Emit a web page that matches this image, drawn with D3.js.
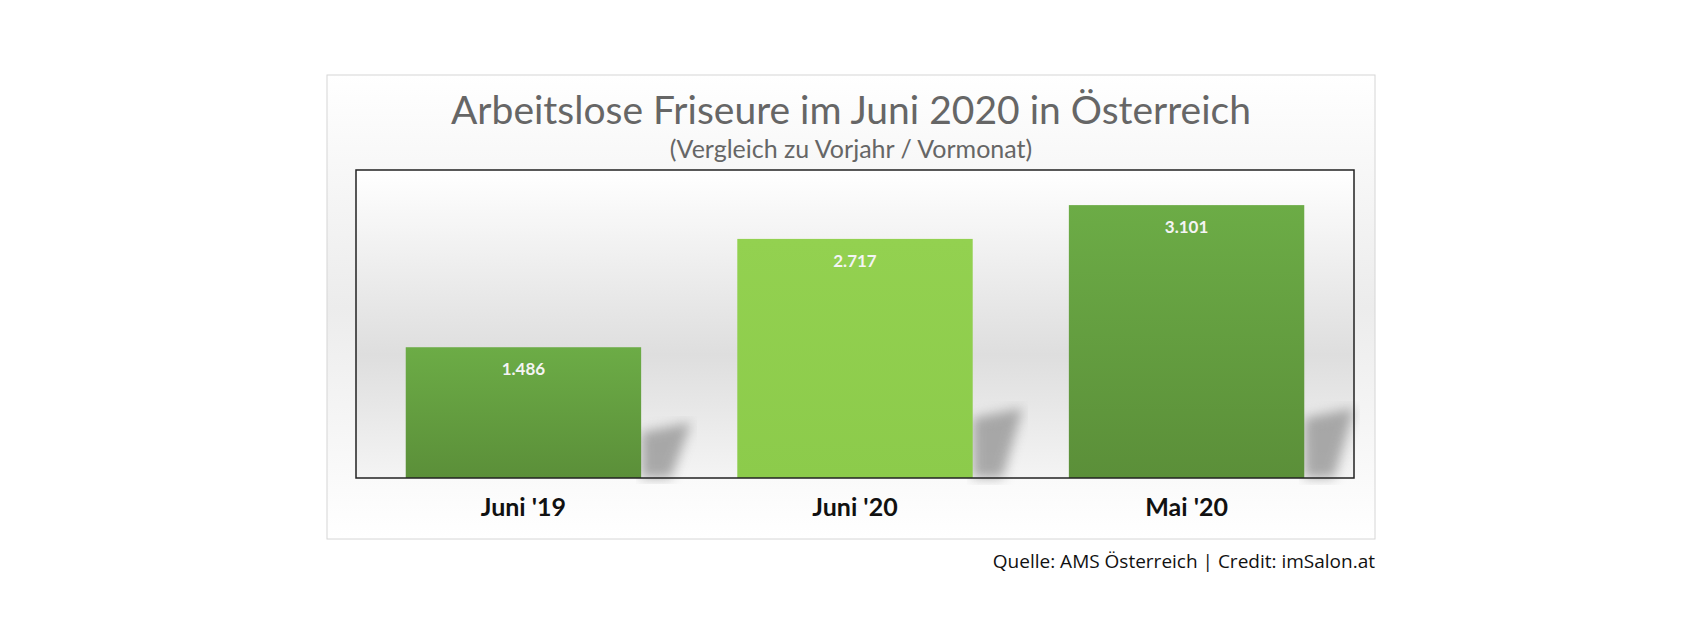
<!DOCTYPE html>
<html><head><meta charset="utf-8">
<script src="https://cdn.jsdelivr.net/npm/d3@7"></script>
<style>body{margin:0;background:#fff;}svg{display:block;}</style>
</head><body>
<script>
var categories = ["Juni '19", "Juni '20", "Mai '20"];
var values = [1486, 2717, 3101];
var valueLabels = ["1.486", "2.717", "3.101"];
var barFill = ["dark", "light", "dark"];

var svg = d3.select("body").append("svg").attr("width", 1700).attr("height", 640);
var defs = svg.append("defs");

var g1 = defs.append("linearGradient").attr("id", "dark").attr("x1", 0).attr("y1", 0).attr("x2", 0).attr("y2", 1);
g1.append("stop").attr("offset", 0).attr("stop-color", "#6cac46");
g1.append("stop").attr("offset", 1).attr("stop-color", "#5b8f39");
var g2 = defs.append("linearGradient").attr("id", "light").attr("x1", 0).attr("y1", 0).attr("x2", 0).attr("y2", 1);
g2.append("stop").attr("offset", 0).attr("stop-color", "#93d150");
g2.append("stop").attr("offset", 1).attr("stop-color", "#8ccb4b");
var bg = defs.append("linearGradient").attr("id", "bg").attr("x1", 0).attr("y1", 0).attr("x2", 0).attr("y2", 1);
bg.append("stop").attr("offset", 0).attr("stop-color", "#ffffff");
bg.append("stop").attr("offset", 0.6).attr("stop-color", "#dedede");
bg.append("stop").attr("offset", 1).attr("stop-color", "#f4f4f4");
var ob = defs.append("linearGradient").attr("id", "ob").attr("x1", 0).attr("y1", 0).attr("x2", 0).attr("y2", 1);
ob.append("stop").attr("offset", 0).attr("stop-color", "#ffffff");
ob.append("stop").attr("offset", 0.5).attr("stop-color", "#ececec");
ob.append("stop").attr("offset", 1).attr("stop-color", "#ffffff");
defs.append("filter").attr("id", "blur").append("feGaussianBlur").attr("stdDeviation", 6);

// outer box
svg.append("rect").attr("x", 327).attr("y", 75).attr("width", 1048).attr("height", 464)
   .attr("fill", "url(#ob)").attr("stroke", "#d6d6d6");

svg.append("text").attr("x", 851).attr("y", 124).attr("text-anchor", "middle")
   .style("font-family", "Lato, 'Open Sans', sans-serif").style("font-size", "39px").attr("fill", "#666")
   .text("Arbeitslose Friseure im Juni 2020 in Österreich");
svg.append("text").attr("x", 851).attr("y", 158).attr("text-anchor", "middle")
   .style("font-family", "Lato, 'Open Sans', sans-serif").style("font-size", "25px").attr("fill", "#666")
   .text("(Vergleich zu Vorjahr  / Vormonat)");

var pLeft = 356, pRight = 1354, pTop = 170, pBottom = 478;
svg.append("rect").attr("x", pLeft).attr("y", pTop).attr("width", pRight - pLeft).attr("height", pBottom - pTop)
   .attr("fill", "url(#bg)");

var x = d3.scaleBand().domain(categories).range([pLeft, pRight]).paddingInner(0.29).paddingOuter(0.15);
var y = d3.scaleLinear().domain([0, 3500]).range([pBottom, pTop]);

// shadows
svg.selectAll(".shadow").data(values).enter().append("path")
   .attr("class", "shadow")
   .attr("filter", "url(#blur)")
   .attr("fill", "#8a8a8a").attr("opacity", 0.7)
   .attr("d", function(d, i) {
     var x0 = x(categories[i]) + x.bandwidth(), h = Math.min(60, (pBottom - y(d)) * 0.35);
     return "M" + x0 + "," + pBottom + "L" + x0 + "," + (pBottom - h) + "L" + (x0 + 50) + "," + (pBottom - h - 10) + "L" + (x0 + 30) + "," + pBottom + "Z";
   });

svg.selectAll(".bar").data(values).enter().append("rect")
   .attr("class", "bar")
   .attr("x", function(d, i) { return x(categories[i]); })
   .attr("width", x.bandwidth())
   .attr("y", function(d) { return y(d); })
   .attr("height", function(d) { return pBottom - y(d); })
   .attr("fill", function(d, i) { return "url(#" + barFill[i] + ")"; });

svg.selectAll(".vlabel").data(values).enter().append("text")
   .attr("x", function(d, i) { return x(categories[i]) + x.bandwidth() / 2; })
   .attr("y", function(d) { return y(d) + 28; })
   .attr("text-anchor", "middle")
   .style("font-family", "Lato, 'Open Sans', sans-serif").style("font-size", "17px").style("font-weight", "bold")
   .attr("fill", "#f4f4f4")
   .text(function(d, i) { return valueLabels[i]; });

svg.append("rect").attr("x", pLeft).attr("y", pTop).attr("width", pRight - pLeft).attr("height", pBottom - pTop)
   .attr("fill", "none").attr("stroke", "#222").attr("stroke-width", 1.5);

var xAxis = svg.append("g").attr("transform", "translate(0," + pBottom + ")")
   .call(d3.axisBottom(x).tickSize(0).tickPadding(20));
xAxis.select(".domain").remove();
xAxis.selectAll("text").style("font-family", "Lato, 'Open Sans', sans-serif").style("font-size", "25px")
   .style("font-weight", "bold").attr("fill", "#111");

svg.append("text").attr("x", 1375).attr("y", 568).attr("text-anchor", "end")
   .style("font-family", "'Liberation Sans Narrow', 'Open Sans', sans-serif").style("font-size", "19px").attr("fill", "#111")
   .text("Quelle: AMS Österreich | Credit: imSalon.at");
</script>
</body></html>
